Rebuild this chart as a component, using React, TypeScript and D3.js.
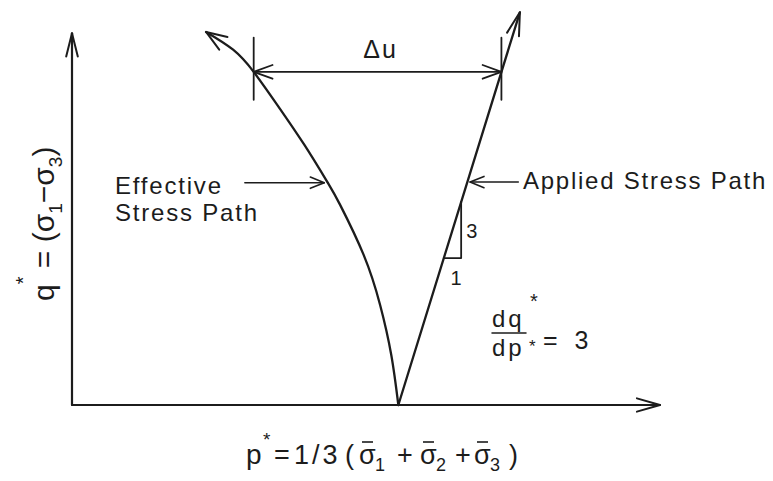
import React from "react";
import * as d3 from "d3";

const W = 773;
const H = 481;

// Stress space extents (arbitrary units)
const pDomain = [0, 10];
const qDomain = [0, 6];
const axisTop = [5.87];

// Applied (total) stress path, dq*/dp* = 3
const appliedSlope = [3];
const appliedP = [5.55, 7.617];
const appliedQ = [0, 6.2];

// Effective stress path
const effectiveP = [5.55, 5.43, 5.24, 4.96, 4.56, 4.35, 3.95, 3.49, 3.09, 2.74, 2.28];
const effectiveQ = [0, 0.79, 1.58, 2.37, 3.16, 3.51, 4.11, 4.74, 5.26, 5.61, 5.89];

// Excess pore pressure dimension between the two paths
const duLevel = [5.26];
const duP = [3.09, 7.303];
const duTickQ = [4.82, 5.8];

// Slope triangle on the applied path
const triangleBaseQ = [2.32];
const triangleRun = [0.295];

// Label leader arrows
const effectiveLeader = { q: 3.51, pFrom: 2.94, pTo: 4.29 };
const appliedLeader = { q: 3.52, pFrom: 7.59, pTo: 6.77 };

const x = d3.scaleLinear().domain(pDomain).range([72, 660]);
const y = d3.scaleLinear().domain(qDomain).range([405, 25]);

const INK = "#1c1c1c";
const FONT = "'Liberation Sans', Arial, sans-serif";

function chevron(tx: number, ty: number, dx: number, dy: number, len: number, halfDeg: number) {
  const a = Math.atan2(dy, dx);
  const h = (halfDeg * Math.PI) / 180;
  const b1 = [tx - len * Math.cos(a - h), ty - len * Math.sin(a - h)];
  const b2 = [tx - len * Math.cos(a + h), ty - len * Math.sin(a + h)];
  return `M${b1[0]},${b1[1]}L${tx},${ty}L${b2[0]},${b2[1]}`;
}

// σ with an overbar and a subscript, placed at (px, base)
function SigmaBar({ px, base, sub }: { px: number; base: number; sub: string }) {
  return (
    <g>
      <text x={px} y={base} fontSize={27}>σ</text>
      <line x1={px + 3} x2={px + 14} y1={base - 22} y2={base - 22} stroke={INK} strokeWidth={1.6} />
      <text x={px + 16} y={base + 7} fontSize={18}>{sub}</text>
    </g>
  );
}

export default function App() {
  const line = d3
    .line<[number, number]>()
    .x((d) => x(d[0]))
    .y((d) => y(d[1]))
    .curve(d3.curveNatural);

  const effPts: [number, number][] = effectiveP.map((p, i) => [p, effectiveQ[i]]);
  const appPts: [number, number][] = appliedP.map((p, i) => [p, appliedQ[i]]);

  const effEnd = effPts[effPts.length - 1];
  const effPrev = effPts[effPts.length - 2];
  const appEnd = appPts[1];
  const appStart = appPts[0];

  const triP0 = appliedP[0] + triangleBaseQ[0] / appliedSlope[0];
  const triP1 = triP0 + triangleRun[0];
  const triQ1 = triangleBaseQ[0] + appliedSlope[0] * triangleRun[0];

  const stroke = { fill: "none", stroke: INK, strokeLinecap: "round" as const, strokeLinejoin: "round" as const };

  const bx = 464; // baseline of the p* title

  return (
    <svg
      width={W}
      height={H}
      style={{ position: "absolute", left: 0, top: 0, background: "#fff" }}
      fontFamily={FONT}
      fill={INK}
    >
      <rect width={W} height={H} fill="#fff" />

      {/* axes */}
      <line x1={x(0)} y1={y(0)} x2={x(pDomain[1])} y2={y(0)} {...stroke} strokeWidth={2.2} />
      <line x1={x(0)} y1={y(0)} x2={x(0)} y2={y(axisTop[0])} {...stroke} strokeWidth={2.2} />
      <path d={chevron(x(pDomain[1]), y(0), 1, 0, 24, 16)} {...stroke} strokeWidth={2} />
      <path d={chevron(x(0), y(axisTop[0]), 0, -1, 24, 14)} {...stroke} strokeWidth={2} />

      {/* stress paths */}
      <path d={line(effPts) || ""} {...stroke} strokeWidth={2.3} />
      <path d={line(appPts) || ""} {...stroke} strokeWidth={2.3} />
      <path
        d={chevron(x(effEnd[0]), y(effEnd[1]), x(effEnd[0]) - x(effPrev[0]), y(effEnd[1]) - y(effPrev[1]), 22, 20)}
        {...stroke}
        strokeWidth={2}
      />
      <path
        d={chevron(x(appEnd[0]), y(appEnd[1]), x(appEnd[0]) - x(appStart[0]), y(appEnd[1]) - y(appStart[1]), 24, 15)}
        {...stroke}
        strokeWidth={2}
      />

      {/* Δu dimension */}
      {duP.map((p, i) => (
        <line key={i} x1={x(p)} x2={x(p)} y1={y(duTickQ[0])} y2={y(duTickQ[1])} {...stroke} strokeWidth={1.8} />
      ))}
      <line x1={x(duP[0])} x2={x(duP[1])} y1={y(duLevel[0])} y2={y(duLevel[0])} {...stroke} strokeWidth={1.6} />
      <path d={chevron(x(duP[0]), y(duLevel[0]), -1, 0, 20, 20)} {...stroke} strokeWidth={1.8} />
      <path d={chevron(x(duP[1]), y(duLevel[0]), 1, 0, 20, 20)} {...stroke} strokeWidth={1.8} />
      <text x={(x(duP[0]) + x(duP[1])) / 2 + 3} y={58} fontSize={25} textAnchor="middle" letterSpacing={2}>
        Δu
      </text>

      {/* leader arrows */}
      <line
        x1={x(effectiveLeader.pFrom)}
        x2={x(effectiveLeader.pTo)}
        y1={y(effectiveLeader.q)}
        y2={y(effectiveLeader.q)}
        {...stroke}
        strokeWidth={1.6}
      />
      <path d={chevron(x(effectiveLeader.pTo), y(effectiveLeader.q), 1, 0, 15, 22)} {...stroke} strokeWidth={1.6} />
      <line
        x1={x(appliedLeader.pFrom)}
        x2={x(appliedLeader.pTo)}
        y1={y(appliedLeader.q)}
        y2={y(appliedLeader.q)}
        {...stroke}
        strokeWidth={1.6}
      />
      <path d={chevron(x(appliedLeader.pTo), y(appliedLeader.q), -1, 0, 15, 22)} {...stroke} strokeWidth={1.6} />

      <text x={115} y={194} fontSize={24} letterSpacing={1.8}>Effective</text>
      <text x={115} y={221} fontSize={24} letterSpacing={1.8}>Stress Path</text>
      <text x={523} y={189} fontSize={24} letterSpacing={1.75}>Applied Stress Path</text>

      {/* slope triangle */}
      <path
        d={`M${x(triP0)},${y(triangleBaseQ[0])}L${x(triP1)},${y(triangleBaseQ[0])}L${x(triP1)},${y(triQ1)}`}
        {...stroke}
        strokeWidth={1.8}
      />
      <text x={x(triP1) + 5} y={y((triangleBaseQ[0] + triQ1) / 2) + 8} fontSize={20}>3</text>
      <text x={x((triP0 + triP1) / 2) - 2} y={y(triangleBaseQ[0]) + 27} fontSize={20}>1</text>

      {/* gradient annotation */}
      <text x={492} y={327} fontSize={24} letterSpacing={3}>dq</text>
      <text x={530} y={308} fontSize={20}>*</text>
      <line x1={492} x2={526} y1={333} y2={333} {...stroke} strokeWidth={1.5} />
      <text x={492} y={356} fontSize={24} letterSpacing={3}>dp</text>
      <text x={529} y={352} fontSize={17}>*</text>
      <text x={543} y={349} fontSize={25} letterSpacing={5}>= 3</text>

      {/* q* title */}
      <text transform="translate(54,301) rotate(-90)" fontSize={30}>
        q
        <tspan dy={-24} fontSize={20}>*</tspan>
        <tspan dy={24}> = (σ</tspan>
        <tspan dy={8} fontSize={19}>1</tspan>
        <tspan dy={-8}>−σ</tspan>
        <tspan dy={8} fontSize={19}>3</tspan>
        <tspan dy={-8}>)</tspan>
      </text>

      {/* p* title */}
      <text x={246} y={bx} fontSize={28}>p</text>
      <text x={263} y={bx - 18} fontSize={19}>*</text>
      <text x={274} y={bx} fontSize={27}>=</text>
      <text x={294} y={bx} fontSize={27} letterSpacing={3}>1/3</text>
      <text x={345} y={bx} fontSize={27}>(</text>
      <SigmaBar px={359} base={bx} sub="1" />
      <text x={397} y={bx} fontSize={27}>+</text>
      <SigmaBar px={420} base={bx} sub="2" />
      <text x={455} y={bx} fontSize={27}>+</text>
      <SigmaBar px={474} base={bx} sub="3" />
      <text x={509} y={bx} fontSize={27}>)</text>
    </svg>
  );
}
